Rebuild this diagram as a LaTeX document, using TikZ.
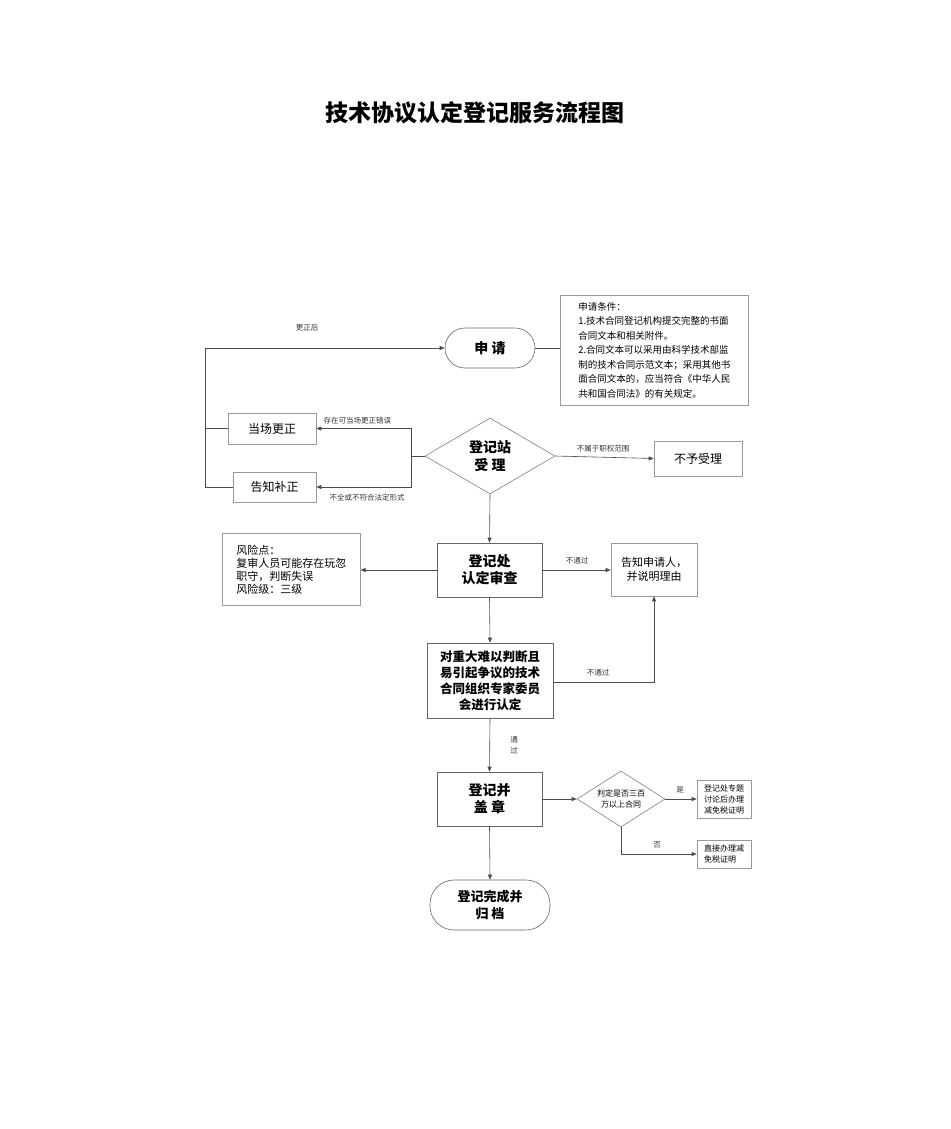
\documentclass[tikz,border=0pt]{standalone}
\usepackage{fontspec}
\setmainfont{Noto Sans CJK SC}
\XeTeXlinebreaklocale "zh"
\XeTeXlinebreakskip=0pt plus 1pt
\usetikzlibrary{shapes.geometric,arrows.meta}
\begin{document}
\begin{tikzpicture}[x=1pt,y=-1pt,
  ln/.style={draw=black!70,line width=0.6pt},
  arr/.style={ln,-{Triangle[length=5pt,width=4pt]}},
  bx/.style={draw=black!40,line width=0.6pt,inner sep=3pt,align=left},
  stad/.style={draw=black!60,line width=0.6pt,rounded corners=20pt,font=\bfseries\fontsize{14}{17}\selectfont,align=center},
  dia/.style={diamond,draw=black!50,line width=0.6pt,aspect=1.7,inner sep=0pt,align=center},
  main/.style={draw=black!60,line width=0.6pt,font=\bfseries\fontsize{14}{17}\selectfont,align=center},
  lbl/.style={font=\fontsize{7.5}{9}\selectfont,text=black!80}]
\useasboundingbox (0,0) rectangle (950,1129);
\node[font=\bfseries\fontsize{23}{27}\selectfont] (title) at (475,113) {技术协议认定登记服务流程图};
\node[stad,minimum width=90pt,minimum height=40pt] (apply) at (490,348) {申\ 请};
\node[bx,font=\fontsize{9.5}{14.5}\selectfont,minimum width=188pt,minimum height=110pt,anchor=north west] (cond) at (560,295) {申请条件：\\1.技术合同登记机构提交完整的书面\\合同文本和相关附件。\\2.合同文本可以采用由科学技术部监\\制的技术合同示范文本；采用其他书\\面合同文本的，应当符合《中华人民\\共和国合同法》的有关规定。};
\draw[ln] (apply.east) -- (cond.west|-apply.east);
\node[dia,font=\bfseries\fontsize{14}{18}\selectfont,minimum width=130pt,minimum height=76pt] (acc) at (490,456) {登记站\\受\ 理};
\node[bx,font=\fontsize{12}{14}\selectfont,minimum width=88pt,minimum height=31pt,align=center] (fix) at (272,428.5) {当场更正};
\node[bx,font=\fontsize{12}{14}\selectfont,minimum width=83pt,minimum height=30pt,align=center] (notify) at (274.5,487) {告知补正};
\node[bx,font=\fontsize{12}{14}\selectfont,minimum width=88pt,minimum height=35pt,align=center] (rej) at (698,458.5) {不予受理};
\coordinate (j1) at (411,456);
\draw[ln] (acc.west) -- (j1);
\draw[arr] (j1) |- (fix.east);
\draw[arr] (j1) |- (notify.east);
\node[lbl,anchor=south west] (l1) at (320,428) {存在可当场更正错误};
\node[lbl,anchor=north west] (l2) at (326,491) {不全或不符合法定形式};
\coordinate (lp) at (205,487);
\draw[ln] (fix.west) -- (205,428.5);
\draw[arr] (notify.west) -- (lp) |- (apply.west);
\node[lbl] (l3) at (307,328) {更正后};
\draw[arr] (acc.east) -- (rej.west);
\node[lbl,anchor=south] (l4) at (603,456) {不属于职权范围};
\node[main,minimum width=105pt,minimum height=54pt] (review) at (489.5,570) {登记处\\认定审查};
\draw[arr] (acc.south) -- (review.north);
\node[bx,font=\fontsize{11}{13}\selectfont,minimum width=138pt,minimum height=72pt,anchor=north west] (risk) at (222,533) {风险点：\\复审人员可能存在玩忽\\职守，判断失误\\风险级：三级};
\draw[arr] (review.west) -- (risk.east|-review.west);
\node[bx,font=\fontsize{11}{14}\selectfont,minimum width=86pt,minimum height=53pt,align=center] (tell) at (654,569.5) {告知申请人，\\并说明理由};
\draw[arr] (review.east) -- (tell.west|-review.east);
\node[lbl,anchor=south] (l5) at (577,568) {不通过};
\node[main,font=\bfseries\fontsize{12.5}{16}\selectfont,minimum width=126pt,minimum height=75pt] (expert) at (490,680.5) {对重大难以判断且\\易引起争议的技术\\合同组织专家委员\\会进行认定};
\draw[arr] (review.south) -- (expert.north);
\draw[arr] (expert.east|-682,682) -| (tell.south);
\node[lbl,anchor=south] (l6) at (598,680) {不通过};
\node[main,minimum width=105pt,minimum height=54pt] (seal) at (489.5,799) {登记并\\盖\ 章};
\draw[arr] (expert.south) -- (seal.north);
\node[lbl,align=center,font=\fontsize{7.5}{11}\selectfont] (l7) at (514,745) {通\\过};
\node[dia,font=\fontsize{8}{11}\selectfont,minimum width=88pt,minimum height=56pt] (judge) at (621,799) {判定是否三百\\万以上合同};
\draw[arr] (seal.east) -- (judge.west);
\node[bx,font=\fontsize{8}{11}\selectfont,minimum width=54pt,minimum height=38pt,inner sep=2pt] (yes) at (724,799) {登记处专题\\讨论后办理\\减免税证明};
\node[bx,font=\fontsize{8}{11}\selectfont,minimum width=54pt,minimum height=28pt,inner sep=2pt] (no) at (724,854) {直接办理减\\免税证明};
\draw[arr] (judge.east) -- (yes.west);
\node[lbl,anchor=south] (l8) at (680,797) {是};
\draw[arr] (judge.south) |- (no.west);
\node[lbl,anchor=south] (l9) at (657,852) {否};
\node[stad,font=\bfseries\fontsize{13}{17}\selectfont,minimum width=120pt,minimum height=50pt,rounded corners=24pt] (done) at (490,905) {登记完成并\\归\ 档};
\draw[arr] (seal.south) -- (done.north);
\end{tikzpicture}
\end{document}
